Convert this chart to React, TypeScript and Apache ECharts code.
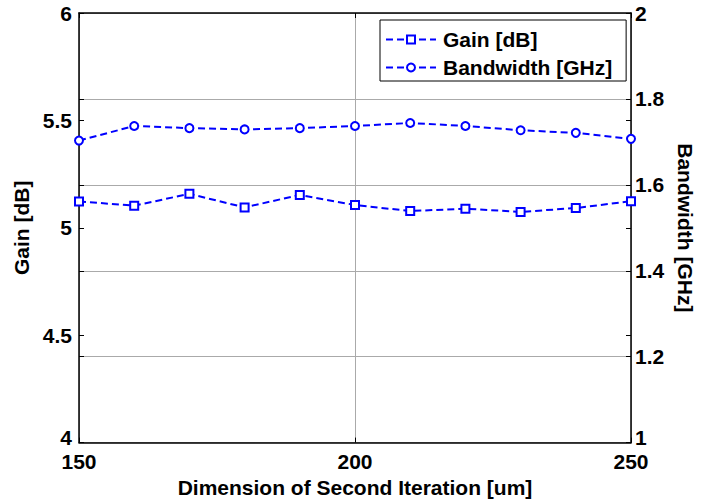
import React, { useEffect, useRef } from "react";
import * as echarts from "echarts";

const xValues = [150, 160, 170, 180, 190, 200, 210, 220, 230, 240, 250];
const gainValues = [5.123, 5.103, 5.158, 5.095, 5.153, 5.106, 5.078, 5.089, 5.074, 5.092, 5.124];
const bandwidthValues = [1.703, 1.737, 1.732, 1.729, 1.732, 1.737, 1.744, 1.737, 1.727, 1.721, 1.707];
const seriesNames = ["Gain [dB]", "Bandwidth [GHz]"];
const xTitle = "Dimension of Second Iteration [um]";

const FONT = "'Liberation Sans', Arial, sans-serif";
const BLUE = "#0000ff";

export default function App() {
  const ref = useRef<HTMLDivElement>(null);
  useEffect(() => {
    if (!ref.current) return;
    const chart = echarts.init(ref.current, null, { renderer: "svg" });
    const labelStyle = { color: "#000", fontFamily: FONT, fontWeight: "bold" as const, fontSize: 21 };
    const tick = { show: true, inside: true, length: 5, lineStyle: { color: "#000", width: 1 } };
    const yLabel = (minVal: number, margin: number) => ({
      ...labelStyle,
      lineHeight: 16,
      margin,
      formatter: (v: number) => (v === minVal ? `{lo|${v}}` : `${v}`),
      rich: { lo: { ...labelStyle, lineHeight: 16, padding: [0, 0, 10, 0] } },
    });
    chart.setOption({
      animation: false,
      backgroundColor: "#fff",
      grid: { left: 79, right: 76, top: 13, bottom: 56 },
      legend: {
        orient: "vertical",
        left: 380,
        top: 20,
        padding: [9, 14, 3, 5],
        itemGap: 7,
        itemWidth: 50,
        itemHeight: 10,
        borderColor: "#000",
        borderWidth: 1,
        backgroundColor: "#fff",
        textStyle: { ...labelStyle, lineHeight: 21, padding: [0, 0, 0, 2] },
        data: seriesNames,
      },
      xAxis: [
        {
          type: "value",
          min: 150,
          max: 250,
          interval: 50,
          name: xTitle,
          nameLocation: "middle",
          nameGap: 33,
          nameTextStyle: labelStyle,
          axisLine: { show: true, lineStyle: { color: "#000", width: 1.5 } },
          axisTick: tick,
          axisLabel: { ...labelStyle, lineHeight: 16, margin: 11 },
          splitLine: { show: true, lineStyle: { color: "#aaa", width: 1 } },
        },
        {
          type: "value",
          position: "top",
          min: 150,
          max: 250,
          interval: 50,
          axisLine: { show: true, lineStyle: { color: "#000", width: 1.5 } },
          axisTick: tick,
          axisLabel: { show: false },
          splitLine: { show: false },
        },
      ],
      yAxis: [
        {
          type: "value",
          position: "left",
          min: 4,
          max: 6,
          interval: 0.5,
          name: seriesNames[0],
          nameLocation: "middle",
          nameRotate: 90,
          nameGap: 46,
          nameTextStyle: labelStyle,
          axisLine: { show: true, lineStyle: { color: "#000", width: 1.5 } },
          axisTick: tick,
          axisLabel: yLabel(4, 7),
          splitLine: { show: false },
        },
        {
          type: "value",
          position: "right",
          min: 1,
          max: 2,
          interval: 0.2,
          name: seriesNames[1],
          nameLocation: "middle",
          nameRotate: -90,
          nameGap: 42,
          nameTextStyle: labelStyle,
          axisLine: { show: true, lineStyle: { color: "#000", width: 1.5 } },
          axisTick: tick,
          axisLabel: yLabel(1, 4),
          splitLine: { show: true, lineStyle: { color: "#aaa", width: 1 } },
        },
        {
          type: "value",
          position: "right",
          min: 4,
          max: 6,
          interval: 0.5,
          axisLine: { show: false },
          axisTick: tick,
          axisLabel: { show: false },
          splitLine: { show: false },
        },
        {
          type: "value",
          position: "left",
          min: 1,
          max: 2,
          interval: 0.2,
          axisLine: { show: false },
          axisTick: tick,
          axisLabel: { show: false },
          splitLine: { show: false },
        },
      ],
      series: [
        {
          name: seriesNames[0],
          type: "line",
          yAxisIndex: 0,
          data: xValues.map((x, i) => [x, gainValues[i]]),
          symbol: "rect",
          symbolSize: 8,
          itemStyle: { color: "#fff", borderColor: BLUE, borderWidth: 2 },
          lineStyle: { color: BLUE, width: 2, type: [7, 4] },
          color: BLUE,
        },
        {
          name: seriesNames[1],
          type: "line",
          yAxisIndex: 1,
          data: xValues.map((x, i) => [x, bandwidthValues[i]]),
          symbol: "circle",
          symbolSize: 8,
          itemStyle: { color: "#fff", borderColor: BLUE, borderWidth: 2 },
          lineStyle: { color: BLUE, width: 2, type: [7, 4] },
          color: BLUE,
        },
      ],
    });
    return () => chart.dispose();
  }, []);
  return (
    <div
      ref={ref}
      style={{ position: "absolute", left: 0, top: 0, width: 707, height: 503 }}
    />
  );
}
